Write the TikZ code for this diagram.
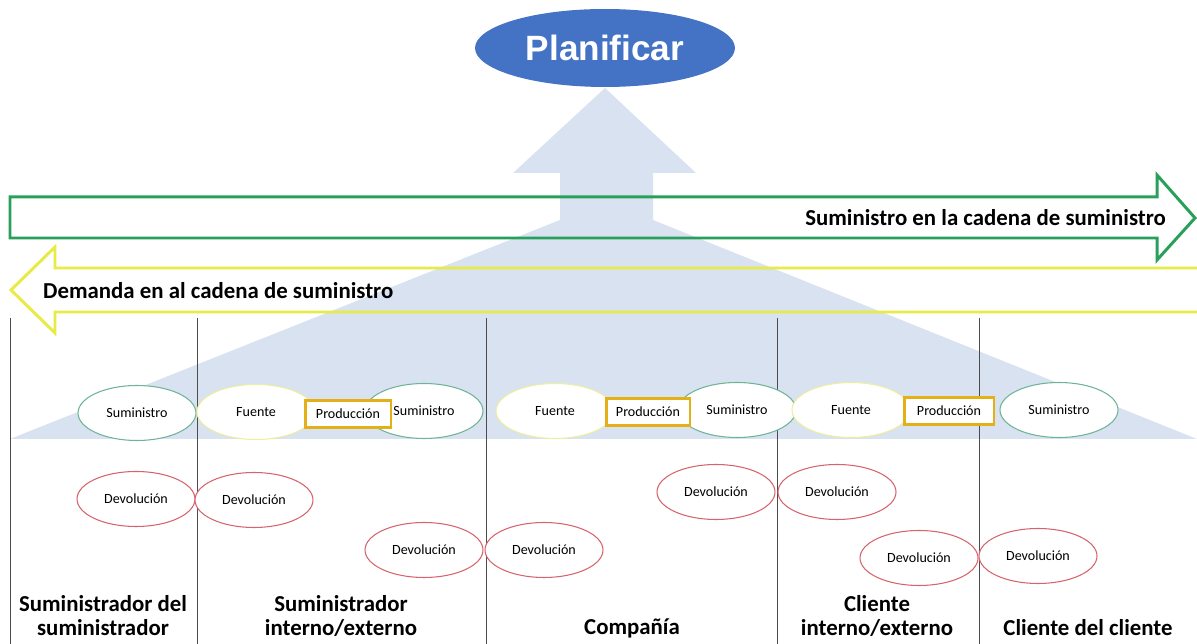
\documentclass[tikz,border=0pt]{standalone}
\usepackage{fontspec}
\setmainfont{Carlito}
\newfontfamily\planfont{Liberation Sans}
\usetikzlibrary{shapes.geometric}
\definecolor{planblue}{RGB}{68,114,196}
\definecolor{fanblue}{RGB}{216,226,240}
\definecolor{supgreen}{RGB}{40,160,90}
\definecolor{demyellow}{RGB}{232,234,70}
\definecolor{prodgold}{RGB}{228,176,24}
\definecolor{retred}{RGB}{214,100,108}
\definecolor{srcyellow}{RGB}{236,238,160}
\definecolor{sumgreen}{RGB}{110,180,150}
\tikzset{
    proc/.style = {ellipse, draw, fill=white, line width=0.6pt, minimum width=2.36cm,
        minimum height=1.1cm, inner sep=0pt, font=\fontsize{8}{9}\selectfont},
    sumin/.style = {proc, draw=sumgreen},
    fuente/.style = {proc, draw=srcyellow},
    devol/.style = {proc, draw=retred},
    prodbox/.style = {draw=prodgold, fill=white, line width=1.7pt, minimum width=1.72cm,
        minimum height=0.54cm, inner sep=0pt, font=\fontsize{8}{9}\selectfont},
    actor/.style = {align=center, font=\fontsize{13}{13.6}\selectfont\bfseries},
    flowtext/.style = {font=\fontsize{13}{15}\selectfont\bfseries}
}
\begin{document}
\begin{tikzpicture}[x=0.02cm, y=-0.02cm]
        \useasboundingbox (0,0) rectangle (1197,644);
        % fondo: flecha hacia planificar
        \fill[fanblue] (605,88) -- (696,173) -- (653,173) -- (653,220) -- (1197,439)
            -- (10,439) -- (560,220) -- (560,173) -- (513,173) -- cycle;
        \node[ellipse, fill=planblue, minimum width=5.2cm, minimum height=1.56cm,
            text=white, font=\planfont\fontsize{20}{22}\selectfont\bfseries] (plan) at (605,48) {Planificar};
        % flechas de suministro y demanda
        \draw[supgreen, line width=1.7pt, line join=miter] (10,197) -- (1157,197) -- (1157,175)
            -- (1195,218) -- (1157,260) -- (1157,238) -- (10,238) -- cycle;
        \draw[demyellow, line width=1.7pt] (1210,268) -- (55,268) -- (55,247) -- (11,290)
            -- (55,333) -- (55,312) -- (1210,312);
        \node[flowtext, anchor=east] (sup) at (1172,218) {Suministro en la cadena de suministro};
        \node[flowtext, anchor=west] (dem) at (37,291) {Demanda en al cadena de suministro};
        % columnas
        \draw[black!70, line width=0.5pt] (10,318) -- (10,644);
        \draw[black!70, line width=0.5pt] (197,318) -- (197,644);
        \draw[black!70, line width=0.5pt] (486,318) -- (486,644);
        \draw[black!70, line width=0.5pt] (777,318) -- (777,644);
        \draw[black!70, line width=0.5pt] (979,318) -- (979,644);
        % procesos
        \node[sumin] (sumA) at (137,413) {Suministro};
        \node[fuente] (fueB) at (256,412) {Fuente};
        \node[sumin] (sumB) at (424,411) {Suministro};
        \node[prodbox] (prodB) at (348,414) {Producción};
        \node[fuente] (fueC) at (555,411) {Fuente};
        \node[sumin] (sumC) at (737,410) {Suministro};
        \node[prodbox, minimum width=1.68cm] (prodC) at (648,412) {Producción};
        \node[fuente] (fueD) at (851,410) {Fuente};
        \node[prodbox, minimum width=1.8cm] (prodD) at (949,411) {Producción};
        \node[sumin] (sumE) at (1059,410) {Suministro};
        % devoluciones
        \node[devol] (devA) at (136,499) {Devolución};
        \node[devol] (devB) at (254,500) {Devolución};
        \node[devol] (devC) at (424,550) {Devolución};
        \node[devol] (devD) at (544,550) {Devolución};
        \node[devol] (devE) at (716,492) {Devolución};
        \node[devol] (devF) at (837,492) {Devolución};
        \node[devol] (devG) at (919,558) {Devolución};
        \node[devol] (devH) at (1038,556) {Devolución};
        % actores
        \node[actor] (actA) at (103,616) {Suministrador del\\suministrador};
        \node[actor] (actB) at (341,616) {Suministrador\\interno/externo};
        \node[actor] (actC) at (632,628) {Compañía};
        \node[actor] (actD) at (877,616) {Cliente\\interno/externo};
        \node[actor] (actE) at (1088,628) {Cliente del cliente};
    \end{tikzpicture}
\end{document}
